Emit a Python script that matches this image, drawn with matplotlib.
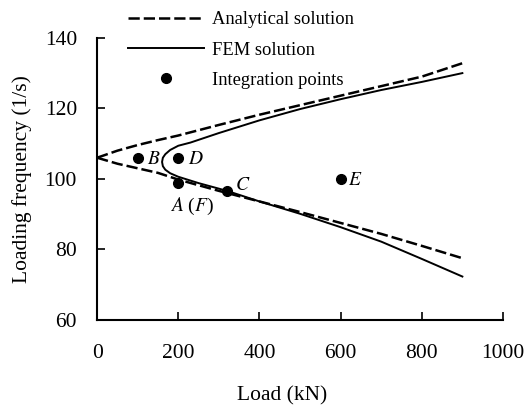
"""Loading frequency vs load: analytical and FEM stability boundaries."""
import matplotlib
matplotlib.use("Agg")
import matplotlib.pyplot as plt

plt.rcParams["font.family"] = ["Liberation Serif", "DejaVu Serif"]
plt.rcParams["mathtext.fontset"] = "stix"

# Analytical solution (upper / lower branch)
ana_load = [0, 50, 100, 150, 200, 300, 400, 500, 600, 700, 800, 900]
ana_upper = [106, 108, 109.6, 111, 112.3, 115.3, 118.2, 120.9, 123.6, 126.3, 129, 132.8]
ana_lower = [106, 104.3, 103, 101.7, 99.8, 96.6, 93.6, 90.6, 87.5, 84.4, 81, 77.5]

# FEM solution (nose at ~160 kN)
fem_load = [900, 800, 700, 600, 500, 400, 300, 230, 200, 180, 168, 162, 160,
            162, 168, 180, 200, 250, 320, 400, 500, 600, 700, 800, 900]
fem_freq = [130, 127.5, 125.2, 122.6, 119.8, 116.6, 113, 110.3, 109.4, 108.2, 107, 106, 104.8,
            103.6, 102.6, 101.6, 100.6, 98.8, 96.6, 93.6, 90.1, 86.3, 82.2, 77.3, 72.3]

# Integration points
pt_load = [100, 200, 200, 320, 600]
pt_freq = [105.8, 105.8, 98.9, 96.6, 100]
pt_names = [r"$B$", r"$D$", r"$A$ ($F$)", r"$C$", r"$E$"]
pt_offsets = [(7, -1), (7, -1), (-6, -17), (6, 4), (5, -1)]

fig = plt.figure(figsize=(5.25, 4.07), dpi=100)
ax = fig.add_axes([0.185, 0.214, 0.773, 0.693])

dash = dict(color="black", lw=1.8, dashes=(4.5, 1.6))
ax.plot(ana_load, ana_upper, label="Analytical solution", **dash)
ax.plot(ana_load, ana_lower, **dash)
ax.plot(fem_load, fem_freq, color="black", lw=1.4, label="FEM solution")
ax.plot(pt_load, pt_freq, "o", color="black", ms=7, ls="none", label="Integration points")

for x, y, name, (dx, dy) in zip(pt_load, pt_freq, pt_names, pt_offsets):
    ax.annotate(name, (x, y), xytext=(dx, dy), textcoords="offset points",
                fontsize=14, ha="left", va="center")

ax.set_xlim(0, 1000)
ax.set_ylim(60, 140)
ax.set_xticks(range(0, 1001, 200))
ax.set_yticks(range(60, 141, 20))
ax.spines[["top", "right"]].set_visible(False)
ax.spines[["left", "bottom"]].set_linewidth(1.5)
ax.tick_params(direction="in", length=6, width=1.2, labelsize=15.5)
ax.tick_params(axis="x", pad=17)
ax.tick_params(axis="y", pad=14.5)
ax.set_xlabel("Load (kN)", fontsize=15.5)
ax.set_ylabel("Loading frequency (1/s)", fontsize=15.5)
ax.xaxis.set_label_coords(0.456, -0.236)
ax.yaxis.set_label_coords(-0.160, 0.5)

ax.legend(loc="upper left", bbox_to_anchor=(0.244, 0.972), bbox_transform=fig.transFigure,
          frameon=False, fontsize=13.3, borderpad=0, borderaxespad=0,
          handlelength=4.1, handletextpad=0.45, labelspacing=0.71)

fig.savefig("out.png", dpi=100)
